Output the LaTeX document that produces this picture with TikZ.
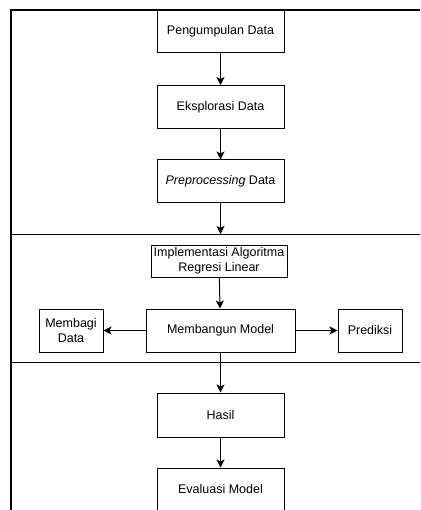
\documentclass[tikz,border=0pt]{standalone}
\usepackage{fontspec}
\setmainfont{Liberation Sans}
\usetikzlibrary{arrows.meta}

\begin{document}
\begin{tikzpicture}[x=1pt, y=-1pt, >={Stealth[length=8pt,width=8pt,inset=2pt]},
    box/.style={draw, line width=1pt, minimum width=127pt, minimum height=43pt, align=center, inner sep=2pt,
        font=\fontsize{12.5}{15}\selectfont},
    arr/.style={->, line width=1pt},
    lane/.style={line width=1pt}]
    \useasboundingbox (0,0) rectangle (420,510);
    \clip (0,0) rectangle (420,510);
    % outer frame and lane
    \draw[line width=1.7pt] (11,10) rectangle (460,560);
    \draw[lane] (11,234) -- (460,234);
    \draw[lane] (11,362) -- (460,362);
    % steps
    \node[box] (kumpul) at (220.5,31.5) {Pengumpulan Data};
    \node[box] (eksplor) at (220.5,107) {Eksplorasi Data};
    \node[box] (prepro) at (220.5,181.5) {\textit{Preprocessing} Data};
    \coordinate (lanetop) at (220.5,234);
    \node[box, minimum width=136pt, minimum height=32pt, inner sep=1pt] (algo) at (219,261) {Implementasi Algoritma\\Regresi Linear};
    \node[box, minimum width=149pt] (bangun) at (220.5,330.5) {Membangun Model};
    \node[box, minimum width=64pt] (bagi) at (71,330.5) {Membagi\\Data};
    \node[box, minimum width=64pt] (prediksi) at (370,330.5) {Prediksi};
    \node[box, minimum height=44pt] (hasil) at (220.5,415) {Hasil};
    \node[box] (evaluasi) at (220.5,489.5) {Evaluasi Model};
    % arrows
    \draw[arr] (kumpul) -- (eksplor);
    \draw[arr] (eksplor) -- (prepro);
    \draw[arr] (prepro) -- (lanetop);
    \draw[arr] (algo) -- (bangun);
    \draw[arr] (bangun) -- (bagi);
    \draw[arr] (bangun) -- (prediksi);
    \draw[arr] (bangun) -- (hasil);
    \draw[arr] (hasil) -- (evaluasi);
\end{tikzpicture}
\end{document}
